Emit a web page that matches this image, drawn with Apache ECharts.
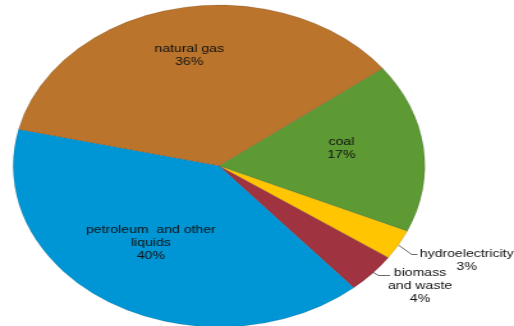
<!DOCTYPE html>
<html>
<head>
<meta charset="utf-8">
<script src="https://cdn.jsdelivr.net/npm/echarts@6/dist/echarts.min.js"></script>
<style>
  html, body { margin: 0; padding: 0; background: #fff; overflow: hidden; }
  /* the pie is drawn round, then widened into the oval the layout uses */
  #chart { width: 402px; height: 326px; transform: scaleX(1.2786); transform-origin: 0 0; }
</style>
</head>
<body>
<div id="chart"></div>
<script>
// Energy sources, share of total (%)
const categories = ['natural gas', 'coal', 'hydroelectricity', 'biomass\nand waste', 'petroleum  and other\nliquids'];
const shares = [36, 17, 3, 4, 40];
const colors = ['#BA742C', '#5E9A34', '#FEC500', '#A03340', '#0096D6'];

// label anchor points (chart pixels) and leader lines for the two thin slices
const labelPlacement = [
  { x: 148, y: 55 },
  { x: 267, y: 148 },
  { x: 365, y: 260, line: [[311.5, 245], [322, 254.5], [326.5, 254.5]] },
  { x: 328.5, y: 285.5, line: [[290, 271], [296, 275.5], [305, 275.5]] },
  { x: 118, y: 243 }
];

const chart = echarts.init(document.getElementById('chart'), null, { renderer: 'canvas' });

chart.setOption({
  animation: false,
  series: [{
    type: 'pie',
    center: [171.3, 166],
    radius: 161,
    startAngle: 166.9,
    clockwise: true,
    avoidLabelOverlap: false,
    itemStyle: { borderColor: 'rgba(0,0,0,0.25)', borderWidth: 0.5 },
    label: {
      show: true,
      formatter: '{b}\n{c}%',
      fontFamily: '"Liberation Sans", Arial, sans-serif',
      fontSize: 11,
      lineHeight: 13,
      color: '#111111',
      align: 'center'
    },
    labelLine: { show: true, lineStyle: { color: '#404040', width: 0.8 } },
    labelLayout: function (params) {
      const p = labelPlacement[params.dataIndex];
      const out = { x: p.x, y: p.y, align: 'center', verticalAlign: 'middle' };
      if (p.line) out.labelLinePoints = p.line;
      return out;
    },
    data: categories.map(function (name, i) {
      const thin = labelPlacement[i].line;
      return {
        name: name,
        value: shares[i],
        itemStyle: { color: colors[i] },
        label: { position: thin ? 'outside' : 'inside' },
        labelLine: { show: !!thin }
      };
    })
  }]
});
</script>
</body>
</html>
